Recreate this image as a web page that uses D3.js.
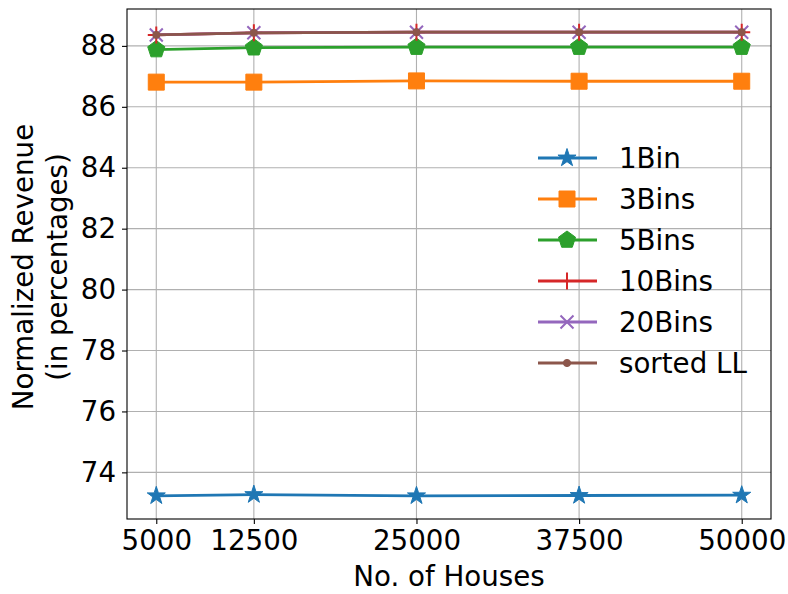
<!DOCTYPE html>
<html>
<head>
<meta charset="utf-8">
<script src="https://cdn.jsdelivr.net/npm/d3@7"></script>
<style>
  html, body { margin: 0; padding: 0; background: #fff; }
  svg { display: block; font-family: "DejaVu Sans", sans-serif; }
</style>
</head>
<body>
<svg id="chart" width="788" height="594"></svg>
<script>
// Number of houses on the x axis
const houses = [5000, 12500, 25000, 37500, 50000];

// Normalized revenue (%) per binning strategy
const bin1     = [73.23, 73.27, 73.23, 73.24, 73.25];
const bins3    = [86.81, 86.81, 86.85, 86.84, 86.84];
const bins5    = [87.88, 87.94, 87.96, 87.96, 87.96];
const bins10   = [88.36, 88.43, 88.45, 88.45, 88.45];
const bins20   = [88.36, 88.43, 88.45, 88.45, 88.45];
const sortedLL = [88.36, 88.43, 88.45, 88.45, 88.45];

const seriesNames = ["1Bin", "3Bins", "5Bins", "10Bins", "20Bins", "sorted LL"];
const yTicks = [74, 76, 78, 80, 82, 84, 86, 88];

const series = [
  { name: seriesNames[0], values: bin1,     color: "#1f77b4", marker: "star" },
  { name: seriesNames[1], values: bins3,    color: "#ff7f0e", marker: "square" },
  { name: seriesNames[2], values: bins5,    color: "#2ca02c", marker: "pentagon" },
  { name: seriesNames[3], values: bins10,   color: "#d62728", marker: "plus" },
  { name: seriesNames[4], values: bins20,   color: "#9467bd", marker: "cross" },
  { name: seriesNames[5], values: sortedLL, color: "#8c564b", marker: "dot" }
];

const FONT = "27.7px";
const svg = d3.select("#chart");
const plot = { left: 127, right: 771, top: 9, bottom: 519 };

// Axis limits padded by 5% of the data span, as in matplotlib's autoscaling
const xExt = d3.extent(houses);
const xPad = (xExt[1] - xExt[0]) * 0.05;
const allVals = series.flatMap(s => s.values);
const yExt = d3.extent(allVals);
const yPad = (yExt[1] - yExt[0]) * 0.05;

const x = d3.scaleLinear().domain([xExt[0] - xPad, xExt[1] + xPad]).range([plot.left, plot.right]);
const y = d3.scaleLinear().domain([yExt[0] - yPad, yExt[1] + yPad]).range([plot.bottom, plot.top]);

// Grid
const grid = svg.append("g").attr("stroke", "#b0b0b0").attr("stroke-width", 1.1);
grid.selectAll(".gx").data(houses).join("line")
  .attr("x1", d => x(d)).attr("x2", d => x(d))
  .attr("y1", plot.top).attr("y2", plot.bottom);
grid.selectAll(".gy").data(yTicks).join("line")
  .attr("x1", plot.left).attr("x2", plot.right)
  .attr("y1", d => y(d)).attr("y2", d => y(d));

// Marker shapes
function markerPath(type) {
  const p = d3.path();
  if (type === "star") {
    const R = 9.5, r = R * 0.381966;
    for (let i = 0; i < 10; i++) {
      const a = -Math.PI / 2 + i * Math.PI / 5;
      const rad = i % 2 === 0 ? R : r;
      const px = rad * Math.cos(a), py = rad * Math.sin(a);
      i === 0 ? p.moveTo(px, py) : p.lineTo(px, py);
    }
    p.closePath();
  } else if (type === "square") {
    p.rect(-8, -8, 16, 16);
  } else if (type === "pentagon") {
    const R = 9;
    for (let i = 0; i < 5; i++) {
      const a = -Math.PI / 2 + i * 2 * Math.PI / 5;
      const px = R * Math.cos(a), py = R * Math.sin(a);
      i === 0 ? p.moveTo(px, py) : p.lineTo(px, py);
    }
    p.closePath();
  } else if (type === "plus") {
    p.moveTo(-8.5, 0); p.lineTo(8.5, 0);
    p.moveTo(0, -8.5); p.lineTo(0, 8.5);
  } else if (type === "cross") {
    p.moveTo(-6.5, -6.5); p.lineTo(6.5, 6.5);
    p.moveTo(-6.5, 6.5); p.lineTo(6.5, -6.5);
  } else if (type === "dot") {
    p.arc(0, 0, 3.6, 0, 2 * Math.PI);
  }
  return p.toString();
}

function drawMarker(g, s, cx, cy) {
  const stroked = s.marker === "plus" || s.marker === "cross";
  g.append("path")
    .attr("d", markerPath(s.marker))
    .attr("transform", `translate(${cx},${cy})`)
    .attr("fill", stroked ? "none" : s.color)
    .attr("stroke", s.color)
    .attr("stroke-width", stroked ? 2 : 1)
    .attr("stroke-linejoin", "miter");
}

// Lines and markers
const line = d3.line().x(d => x(d.x)).y(d => y(d.y));
series.forEach(s => {
  const pts = houses.map((h, i) => ({ x: h, y: s.values[i] }));
  const g = svg.append("g");
  g.append("path").datum(pts)
    .attr("d", line)
    .attr("fill", "none")
    .attr("stroke", s.color)
    .attr("stroke-width", 2.8)
    .attr("stroke-linejoin", "round")
    .attr("stroke-linecap", "square");
  pts.forEach(p => drawMarker(g, s, x(p.x), y(p.y)));
});

// Frame
svg.append("rect")
  .attr("x", plot.left).attr("y", plot.top)
  .attr("width", plot.right - plot.left).attr("height", plot.bottom - plot.top)
  .attr("fill", "none").attr("stroke", "#000").attr("stroke-width", 1.1);

// Axes
const xAxis = d3.axisBottom(x).tickValues(houses).tickFormat(d3.format("d")).tickSize(5).tickPadding(6);
const yAxis = d3.axisLeft(y).tickValues(yTicks).tickFormat(d3.format("d")).tickSize(5).tickPadding(6);

const gx = svg.append("g").attr("transform", `translate(0,${plot.bottom})`).call(xAxis);
const gy = svg.append("g").attr("transform", `translate(${plot.left},0)`).call(yAxis);
[gx, gy].forEach(g => {
  g.select(".domain").remove();
  g.selectAll(".tick line").attr("stroke", "#000").attr("stroke-width", 1.1);
  g.selectAll(".tick text")
    .attr("fill", "#000")
    .style("font-family", "'DejaVu Sans', sans-serif")
    .style("font-size", FONT);
});

// Axis titles
svg.append("text")
  .attr("x", (plot.left + plot.right) / 2).attr("y", 586)
  .attr("text-anchor", "middle")
  .style("font-size", FONT)
  .text("No. of Houses");

const yTitle = svg.append("text")
  .attr("transform", `translate(0,${(plot.top + plot.bottom) / 2 + 3}) rotate(-90)`)
  .attr("text-anchor", "middle")
  .style("font-size", FONT);
yTitle.append("tspan").attr("x", 0).attr("y", 33).text("Normalized Revenue");
yTitle.append("tspan").attr("x", 0).attr("y", 67).text("(in percentages)");

// Legend
const legend = svg.append("g");
const legTop = 158, legStep = 41;
series.forEach((s, i) => {
  const ly = legTop + i * legStep;
  const g = legend.append("g");
  g.append("line")
    .attr("x1", 538).attr("x2", 597)
    .attr("y1", ly).attr("y2", ly)
    .attr("stroke", s.color).attr("stroke-width", 2.8);
  drawMarker(g, s, 567, ly);
  g.append("text")
    .attr("x", 619).attr("y", ly + 10)
    .style("font-size", FONT)
    .text(s.name);
});
</script>
</body>
</html>
